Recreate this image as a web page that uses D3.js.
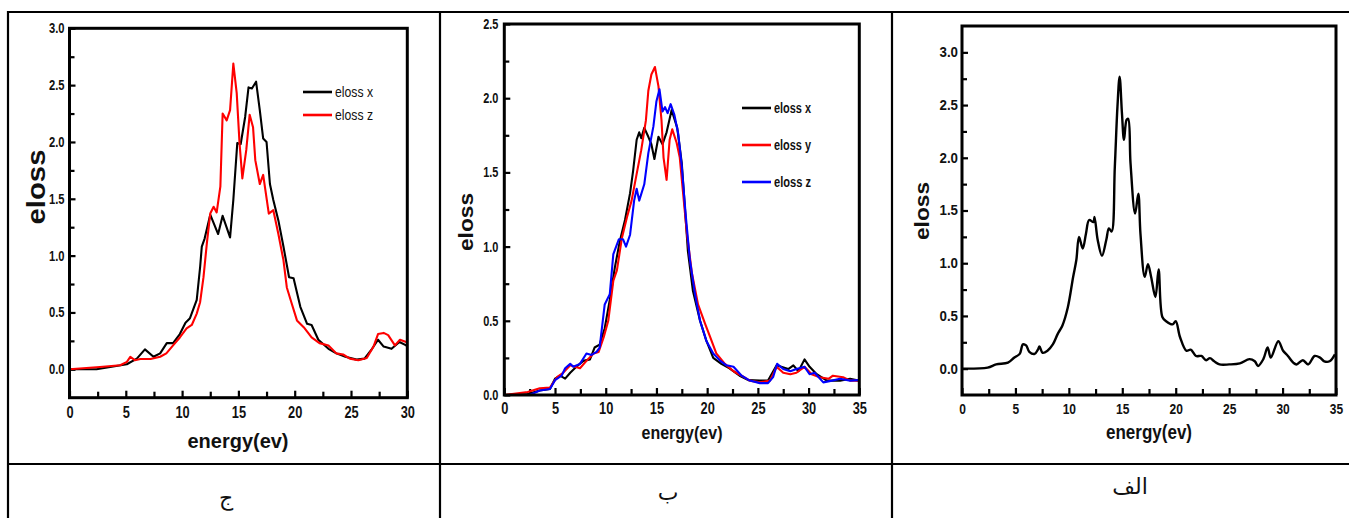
<!DOCTYPE html>
<html><head><meta charset="utf-8">
<script src="https://cdn.jsdelivr.net/npm/d3@7"></script>
<style>
html,body{margin:0;padding:0;background:#fff;}
svg{display:block;}
.tk text{font-family:"Liberation Sans",Arial,sans-serif;font-weight:bold;fill:#111;}
</style></head>
<body>
<svg id="chart" width="1349" height="518"></svg>
<script>
// ---------- DATA ----------
// Panel "ج" (left): energy (eV) vs eloss
const energyTicksJ = [0, 5, 10, 15, 20, 25, 30];
const elossTicksJ = [0.0, 0.5, 1.0, 1.5, 2.0, 2.5, 3.0];
const jElossX = [[0,0],[2.4,0],[5.09,0.044],[5.98,0.094],[6.7,0.175],[7.46,0.11],[8.05,0.14],[8.64,0.23],[9.2,0.23],[9.8,0.31],[10.3,0.41],[10.7,0.45],[11.3,0.61],[11.6,0.9],[11.75,1.08],[12.0,1.15],[12.5,1.36],[13.2,1.19],[13.6,1.35],[14.26,1.16],[14.55,1.49],[14.9,1.99],[15.2,1.98],[15.6,2.22],[15.9,2.48],[16.2,2.47],[16.57,2.53],[16.9,2.28],[17.2,2.03],[17.5,2.0],[17.8,1.63],[18.1,1.49],[18.55,1.31],[19.0,1.08],[19.5,0.81],[19.9,0.8],[20.5,0.55],[21.1,0.4],[21.5,0.39],[22.1,0.26],[23.0,0.18],[23.7,0.14],[24.5,0.11],[25.5,0.085],[26.2,0.094],[26.8,0.17],[27.4,0.26],[27.9,0.2],[28.6,0.18],[29.3,0.24],[29.9,0.21],[30,0.2]];
const jElossZ = [[0,0],[2.7,0.02],[4.5,0.035],[5.1,0.065],[5.4,0.11],[5.8,0.08],[6.3,0.09],[7.2,0.09],[8.05,0.11],[8.6,0.14],[9.2,0.21],[9.8,0.28],[10.4,0.36],[10.86,0.39],[11.3,0.49],[11.6,0.59],[11.9,0.81],[12.2,1.11],[12.5,1.37],[12.8,1.43],[13.07,1.38],[13.4,1.61],[13.6,2.25],[13.96,2.19],[14.26,2.28],[14.55,2.69],[14.85,2.43],[15.1,1.99],[15.35,1.68],[15.7,1.93],[16.0,2.24],[16.3,2.13],[16.5,1.84],[16.9,1.63],[17.2,1.71],[17.7,1.37],[18.1,1.4],[18.55,1.19],[19.0,0.96],[19.3,0.72],[19.7,0.59],[20.2,0.43],[20.8,0.37],[21.5,0.28],[22.2,0.23],[23.0,0.21],[23.7,0.14],[24.3,0.13],[24.9,0.094],[25.65,0.08],[26.4,0.1],[27.0,0.2],[27.4,0.31],[27.9,0.32],[28.3,0.3],[28.9,0.21],[29.35,0.26],[29.9,0.24],[30,0.23]];

// Panel "ب" (middle)
const energyTicksB = [0, 5, 10, 15, 20, 25, 30, 35];
const elossTicksB = [0.0, 0.5, 1.0, 1.5, 2.0, 2.5];
const bElossX = [[0,0],[2.3,0.007],[3.5,0.03],[4.5,0.04],[5.0,0.11],[5.5,0.13],[6.0,0.11],[6.5,0.15],[7.1,0.19],[7.8,0.23],[8.45,0.24],[8.9,0.32],[9.4,0.34],[9.9,0.45],[10.4,0.64],[10.9,0.86],[11.4,1.04],[11.9,1.18],[12.4,1.36],[12.7,1.51],[13.05,1.72],[13.3,1.77],[13.5,1.73],[13.8,1.8],[14.2,1.74],[14.5,1.69],[14.8,1.59],[15.2,1.74],[15.6,1.69],[16.0,1.77],[16.5,1.92],[17.05,1.8],[17.5,1.56],[17.8,1.27],[18.1,0.97],[18.6,0.7],[19.3,0.5],[19.9,0.37],[20.6,0.25],[21.4,0.21],[22.2,0.18],[23.2,0.13],[24.05,0.1],[25.2,0.097],[26.0,0.097],[26.85,0.2],[27.3,0.19],[28.0,0.175],[28.5,0.2],[29.0,0.16],[29.6,0.24],[30.1,0.19],[30.8,0.14],[31.8,0.097],[33.1,0.097],[34.1,0.11],[34.9,0.097]];
const bElossY = [[0,0],[2.3,0.02],[3.5,0.045],[4.5,0.05],[5.2,0.12],[5.8,0.15],[6.5,0.2],[7.46,0.18],[8.1,0.23],[8.8,0.28],[9.3,0.29],[9.8,0.39],[10.25,0.5],[10.75,0.77],[11.1,0.84],[11.6,1.06],[12.1,1.2],[12.55,1.31],[13.05,1.49],[13.5,1.65],[13.96,1.85],[14.2,2.05],[14.5,2.16],[14.85,2.21],[15.2,2.08],[15.5,1.85],[15.7,1.6],[16.0,1.45],[16.3,1.72],[16.56,1.79],[16.99,1.7],[17.3,1.6],[17.6,1.38],[18.0,1.09],[18.5,0.82],[19.1,0.61],[19.8,0.48],[20.3,0.39],[20.9,0.28],[21.75,0.21],[22.6,0.16],[23.4,0.13],[24.2,0.097],[25.2,0.085],[26.2,0.097],[26.85,0.19],[27.5,0.15],[28.2,0.14],[28.8,0.15],[29.6,0.19],[30.3,0.14],[31.1,0.12],[32.0,0.11],[32.4,0.13],[33.4,0.12],[34.1,0.097],[34.9,0.097]];
const bElossZ = [[0,0],[2.5,0],[3.5,0.03],[4.5,0.04],[5.0,0.1],[5.65,0.13],[6.0,0.18],[6.5,0.21],[6.8,0.19],[7.46,0.21],[8.1,0.28],[8.6,0.27],[9.1,0.29],[9.4,0.32],[9.9,0.61],[10.4,0.68],[10.75,0.95],[11.3,1.05],[11.7,1.05],[12.0,1.0],[12.4,1.08],[12.8,1.31],[13.05,1.39],[13.3,1.31],[13.8,1.42],[14.2,1.63],[14.7,1.81],[15.0,1.98],[15.3,2.06],[15.6,1.91],[15.85,1.94],[16.1,1.9],[16.4,1.96],[16.76,1.89],[17.15,1.76],[17.5,1.54],[17.9,1.2],[18.3,0.91],[18.8,0.68],[19.3,0.5],[19.95,0.36],[20.6,0.28],[21.3,0.23],[21.9,0.2],[22.6,0.19],[23.4,0.13],[24.2,0.097],[25.2,0.08],[26.0,0.08],[26.5,0.12],[26.9,0.21],[27.5,0.175],[28.2,0.16],[28.8,0.175],[29.6,0.19],[30.1,0.14],[30.6,0.15],[31.45,0.085],[32.3,0.097],[33.1,0.11],[34.1,0.097],[34.9,0.1]];

// Panel "الف" (right)
const energyTicksA = [0, 5, 10, 15, 20, 25, 30, 35];
const elossTicksA = [0.0, 0.5, 1.0, 1.5, 2.0, 2.5, 3.0];
const aEloss = [[0,0],[2.4,0.01],[3.2,0.04],[4.3,0.057],[4.9,0.105],[5.4,0.14],[5.7,0.23],[6.0,0.22],[6.3,0.16],[6.8,0.14],[7.1,0.18],[7.25,0.21],[7.55,0.15],[8.0,0.17],[8.5,0.23],[8.96,0.33],[9.4,0.41],[9.9,0.58],[10.4,0.87],[10.7,1.03],[10.95,1.25],[11.3,1.14],[11.6,1.28],[11.9,1.41],[12.3,1.39],[12.4,1.44],[12.7,1.22],[13.1,1.07],[13.5,1.22],[13.75,1.33],[14.0,1.3],[14.3,1.91],[14.55,2.49],[14.75,2.77],[14.97,2.42],[15.16,2.17],[15.4,2.36],[15.55,2.37],[15.77,1.95],[16.2,1.47],[16.5,1.66],[16.7,1.28],[17.1,0.87],[17.4,0.99],[17.7,0.87],[18.1,0.68],[18.4,0.94],[18.75,0.49],[19.1,0.45],[19.7,0.42],[20.0,0.45],[20.4,0.3],[21.0,0.17],[21.4,0.18],[21.9,0.12],[22.4,0.12],[22.85,0.08],[23.2,0.1],[23.6,0.07],[24.1,0.04],[25.0,0.04],[26.0,0.05],[26.9,0.09],[27.4,0.07],[27.7,0.025],[28.2,0.09],[28.6,0.2],[28.9,0.105],[29.6,0.26],[30.05,0.17],[30.5,0.12],[31.0,0.057],[31.3,0.04],[31.9,0.08],[32.4,0.04],[33.0,0.12],[33.5,0.105],[33.9,0.07],[34.4,0.07],[34.9,0.136]];

const panelLabels = ["ج", "ب", "الف"];

// ---------- DRAW ----------
const svg = d3.select("#chart");
const sans = '"Liberation Sans",Arial,sans-serif';

// table
const tbl = svg.append("g").attr("stroke", "#000").attr("stroke-width", 2.2);
tbl.append("line").attr("x1", 7).attr("x2", 1349).attr("y1", 12).attr("y2", 12);
tbl.append("line").attr("x1", 7).attr("x2", 1349).attr("y1", 464).attr("y2", 464);
[8, 440, 892].forEach(x => tbl.append("line").attr("x1", x).attr("x2", x).attr("y1", 11).attr("y2", 518));

const bottomLabels = [{x: 226, y: 505}, {x: 668, y: 500}, {x: 1130, y: 494}];
panelLabels.forEach((t, i) => {
  svg.append("text").attr("x", bottomLabels[i].x).attr("y", bottomLabels[i].y)
    .attr("text-anchor", "middle").attr("font-family", '"Liberation Serif","DejaVu Serif","DejaVu Sans",serif')
    .attr("font-size", 22).attr("fill", "#111").text(t);
});

function condense(sel, k) {
  sel.each(function() {
    const w = this.getComputedTextLength();
    if (w > 0) d3.select(this).attr("textLength", w * k).attr("lengthAdjust", "spacingAndGlyphs");
  });
}

function panel(o) {
  const g = svg.append("g");
  const x = d3.scaleLinear().domain(o.xDomain).range([o.left, o.right]);
  const y = d3.scaleLinear().domain(o.yDomain).range([o.bottom, o.top]);

  const xMinor = o.xTicks.slice(0, -1).map(v => v + 2.5);
  const yMinor = o.yTicks.map(v => v + 0.25).filter(v => v < o.yDomain[1] - 0.01);

  const ax = g.append("g").attr("class", "tk").attr("transform", `translate(0,${o.bottom})`)
    .call(d3.axisBottom(x).tickValues(o.xTicks).tickFormat(d3.format("d")).tickSizeInner(-7).tickSizeOuter(0).tickPadding(o.xPad));
  ax.selectAll("text").attr("font-size", o.xtFont);
  condense(ax.selectAll("text"), 0.8);
  g.append("g").attr("transform", `translate(0,${o.bottom})`)
    .call(d3.axisBottom(x).tickValues(xMinor).tickFormat("").tickSizeInner(-6).tickSizeOuter(0));
  const ay = g.append("g").attr("class", "tk").attr("transform", `translate(${o.left},0)`)
    .call(d3.axisLeft(y).tickValues(o.yTicks).tickFormat(d3.format(".1f")).tickSizeInner(-6).tickSizeOuter(0).tickPadding(o.yPad));
  ay.selectAll("text").attr("font-size", o.ytFont);
  condense(ay.selectAll("text"), o.yK);
  g.append("g").attr("transform", `translate(${o.left},0)`)
    .call(d3.axisLeft(y).tickValues(yMinor).tickFormat("").tickSizeInner(-5).tickSizeOuter(0));
  g.selectAll(".domain").remove();
  g.selectAll(".tick line").attr("stroke", "#000").attr("stroke-width", 2.2);

  const clipId = "clip" + o.id;
  svg.append("clipPath").attr("id", clipId).append("rect")
    .attr("x", o.left).attr("y", o.top).attr("width", o.right - o.left).attr("height", o.bottom - o.top);
  const line = d3.line().x(d => x(d[0])).y(d => y(d[1])).curve(o.curve || d3.curveLinear);
  o.series.forEach(s => {
    g.append("path").datum(s.data).attr("d", line).attr("fill", "none")
      .attr("stroke", s.color).attr("stroke-width", o.lineW).attr("stroke-linejoin", "round")
      .attr("clip-path", `url(#${clipId})`);
  });

  g.append("rect").attr("x", o.left).attr("y", o.top).attr("width", o.right - o.left)
    .attr("height", o.bottom - o.top).attr("fill", "none").attr("stroke", "#000").attr("stroke-width", 3);

  g.append("text").attr("transform", `translate(${o.yTitle.x},${o.yTitle.y}) rotate(-90)`)
    .attr("text-anchor", "middle").attr("font-family", sans)
    .attr("font-weight", "bold").attr("font-size", o.yTitle.size).attr("fill", "#111")
    .attr("textLength", o.yTitle.len).attr("lengthAdjust", "spacingAndGlyphs").text("eloss");
  g.append("text").attr("x", o.xTitle.x).attr("y", o.xTitle.y)
    .attr("text-anchor", "middle").attr("font-family", sans)
    .attr("font-weight", "bold").attr("font-size", o.xTitle.size).attr("fill", "#111")
    .attr("textLength", o.xTitle.len).attr("lengthAdjust", "spacingAndGlyphs").text("energy(ev)");

  if (o.legend) {
    o.series.forEach((s, i) => {
      const ly = o.legend.y + i * o.legend.dy;
      g.append("line").attr("x1", o.legend.x).attr("x2", o.legend.x + 29).attr("y1", ly).attr("y2", ly)
        .attr("stroke", s.color).attr("stroke-width", 2.6);
      g.append("text").attr("x", o.legend.x + 32).attr("y", ly).attr("dy", "0.36em")
        .attr("font-family", sans).attr("font-weight", o.legend.weight)
        .attr("font-size", o.legend.size).attr("fill", "#111")
        .attr("textLength", o.legend.len).attr("lengthAdjust", "spacingAndGlyphs").text(s.name);
    });
  }
}

panel({
  id: "J", left: 69.5, right: 407.3, top: 28.3, bottom: 397.7,
  xDomain: [0, 30], yDomain: [-0.25, 3.0], xTicks: energyTicksJ, yTicks: elossTicksJ,
  xPad: 9, yPad: 5, xtFont: 16, ytFont: 14, yK: 0.8, lineW: 2.1,
  series: [{name: "eloss x", color: "#000", data: jElossX}, {name: "eloss z", color: "#ff0000", data: jElossZ}],
  legend: {x: 303, y: 92, dy: 23, size: 15, weight: "normal", len: 38},
  yTitle: {x: 45, y: 187, size: 25, len: 75},
  xTitle: {x: 238, y: 448, size: 21, len: 101}
});

panel({
  id: "B", left: 504.3, right: 859.3, top: 24, bottom: 395,
  xDomain: [0, 35], yDomain: [0, 2.5], xTicks: energyTicksB, yTicks: elossTicksB,
  xPad: 8, yPad: 6, xtFont: 16, ytFont: 14, yK: 0.78, lineW: 2.1,
  series: [{name: "eloss x", color: "#000", data: bElossX}, {name: "eloss y", color: "#ff0000", data: bElossY}, {name: "eloss z", color: "#0000ff", data: bElossZ}],
  legend: {x: 742, y: 108, dy: 37, size: 14, weight: "bold", len: 37},
  yTitle: {x: 473, y: 222, size: 21, len: 58},
  xTitle: {x: 682, y: 439, size: 19, len: 81}
});

panel({
  id: "A", left: 962, right: 1336, top: 26, bottom: 395,
  xDomain: [0, 35], yDomain: [-0.25, 3.25], xTicks: energyTicksA, yTicks: elossTicksA,
  xPad: 8, yPad: 4, xtFont: 15, ytFont: 14, yK: 0.95, lineW: 2.4, curve: d3.curveCatmullRom.alpha(0.5),
  series: [{name: "eloss", color: "#000", data: aEloss}],
  legend: null,
  yTitle: {x: 929, y: 211, size: 21, len: 58},
  xTitle: {x: 1149, y: 439, size: 20, len: 86}
});
</script>
</body></html>
